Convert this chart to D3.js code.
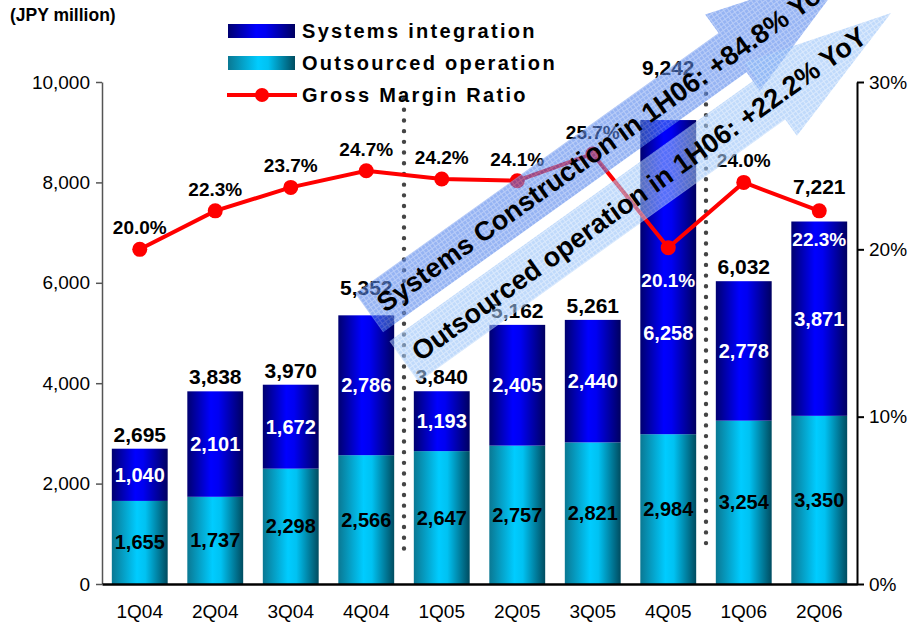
<!DOCTYPE html>
<html>
<head>
<meta charset="utf-8">
<script src="https://cdn.jsdelivr.net/npm/d3@7"></script>
<style>
  body { margin: 0; background: #fff; }
  svg { display: block; font-family: "Liberation Sans", Arial, sans-serif; }
</style>
</head>
<body>
<svg id="chart" width="910" height="624"></svg>
<script>
// Data (JPY million, %)
const quarters = ['1Q04', '2Q04', '3Q04', '4Q04', '1Q05', '2Q05', '3Q05', '4Q05', '1Q06', '2Q06'];
const outsourcedOperation = [1655, 1737, 2298, 2566, 2647, 2757, 2821, 2984, 3254, 3350];
const systemsIntegration = [1040, 2101, 1672, 2786, 1193, 2405, 2440, 6258, 2778, 3871];
const totals = [2695, 3838, 3970, 5352, 3840, 5162, 5261, 9242, 6032, 7221];
const grossMarginRatio = [20.0, 22.3, 23.7, 24.7, 24.2, 24.1, 25.7, 20.1, 24.0, 22.3];
const leftTicks = [0, 2000, 4000, 6000, 8000, 10000];
const rightTicks = [0, 10, 20, 30];
const legendNames = ['Systems integration', 'Outsourced operation', 'Gross Margin Ratio'];
const arrowTexts = ['Systems Construction in 1H06: +84.8% YoY', 'Outsourced operation in 1H06: +22.2% YoY'];
const dividerAfter = ['4Q04', '4Q05'];

// Layout
const PLOT = { left: 102, right: 857, top: 82, bottom: 584 };
const FONT = '"Liberation Sans", Arial, sans-serif';

const svg = d3.select('#chart');

const x = d3.scaleBand()
    .domain(quarters)
    .range([PLOT.left, PLOT.right])
    .paddingInner(0.26)
    .paddingOuter(0.13);

const yLeft = d3.scaleLinear().domain([0, 10000]).range([PLOT.bottom, PLOT.top]);
const yRight = d3.scaleLinear().domain([0, 30]).range([PLOT.bottom, PLOT.top]);

// Gradients for the bars
const defs = svg.append('defs');

function addGradient(id, stops) {
    const g = defs.append('linearGradient').attr('id', id)
        .attr('x1', 0).attr('x2', 1).attr('y1', 0).attr('y2', 0);
    stops.forEach(([o, c]) => g.append('stop').attr('offset', o).attr('stop-color', c));
}
addGradient('gradSys', [[0, '#000070'], [0.42, '#0000FF'], [0.56, '#0000F2'], [1, '#000060']]);
addGradient('gradOut', [[0, '#0A7893'], [0.45, '#00CCFF'], [0.6, '#00C2F2'], [1, '#004C60']]);

// Hatched fills for the arrows
function addPattern(id, base, line) {
    const p = defs.append('pattern').attr('id', id)
        .attr('patternUnits', 'userSpaceOnUse').attr('width', 4).attr('height', 4);
    p.append('rect').attr('width', 4).attr('height', 4).attr('fill', base);
    p.append('rect').attr('width', 4).attr('height', 1).attr('fill', line);
    p.append('rect').attr('width', 1).attr('height', 4).attr('fill', line);
}
addPattern('patSys', '#4A7DEB', '#86A8F2');
addPattern('patOut', '#93BFF8', '#C0DAFB');

// Stacked bars
const bars = svg.append('g');
quarters.forEach((q, i) => {
    bars.append('rect')
        .attr('x', x(q)).attr('width', x.bandwidth())
        .attr('y', yLeft(outsourcedOperation[i]))
        .attr('height', yLeft(0) - yLeft(outsourcedOperation[i]))
        .attr('fill', 'url(#gradOut)');
    bars.append('rect')
        .attr('x', x(q)).attr('width', x.bandwidth())
        .attr('y', yLeft(totals[i]))
        .attr('height', yLeft(outsourcedOperation[i]) - yLeft(totals[i]))
        .attr('fill', 'url(#gradSys)');
});

// Axes
const leftAxis = svg.append('g')
    .attr('transform', `translate(${PLOT.left},0)`)
    .call(d3.axisLeft(yLeft).tickValues(leftTicks).tickFormat(d3.format(','))
        .tickSize(6).tickSizeOuter(0).tickPadding(6));
leftAxis.selectAll('path, line').attr('stroke', '#555').attr('stroke-width', 1.5);
leftAxis.selectAll('text').attr('font-size', 19).attr('font-family', FONT).attr('fill', '#000');

const rightAxis = svg.append('g')
    .attr('transform', `translate(${PLOT.right},0)`)
    .call(d3.axisRight(yRight).tickValues(rightTicks).tickFormat(d => d + '%')
        .tickSize(7).tickSizeOuter(0).tickPadding(5));
rightAxis.selectAll('path, line').attr('stroke', '#000').attr('stroke-width', 2);
rightAxis.selectAll('text').attr('font-size', 19).attr('font-family', FONT).attr('fill', '#000');

const bottomAxis = svg.append('g')
    .attr('transform', `translate(0,${PLOT.bottom})`)
    .call(d3.axisBottom(x).tickSize(0).tickPadding(21));
bottomAxis.select('path').attr('stroke', '#000').attr('stroke-width', 2.5);
bottomAxis.selectAll('text').attr('font-size', 19).attr('font-family', FONT).attr('fill', '#000');

// Dotted dividers between fiscal halves
const dividerTops = [yLeft(9660), yLeft(9980)];
dividerAfter.forEach((q, k) => {
    const xb = x(q) + x.bandwidth() + x.step() * x.paddingInner() / 2;
    svg.append('line')
        .attr('x1', xb).attr('x2', xb)
        .attr('y1', dividerTops[k]).attr('y2', yLeft(620))
        .attr('stroke', '#444').attr('stroke-width', 4.4)
        .attr('stroke-linecap', 'round').attr('stroke-dasharray', '0 10.7');
});

// Gross margin line
const cx = q => x(q) + x.bandwidth() / 2;
const line = d3.line()
    .x((d, i) => cx(quarters[i]))
    .y(d => yRight(d));
svg.append('path')
    .datum(grossMarginRatio)
    .attr('d', line)
    .attr('fill', 'none').attr('stroke', '#FF0000').attr('stroke-width', 4);
svg.append('g').selectAll('circle')
    .data(grossMarginRatio)
    .join('circle')
    .attr('cx', (d, i) => cx(quarters[i]))
    .attr('cy', d => yRight(d))
    .attr('r', 7.5)
    .attr('fill', '#FF0000');

// Data labels
const labels = svg.append('g').attr('font-family', FONT).attr('font-weight', 'bold').attr('text-anchor', 'middle');
const totalLift = { '4Q04': 13, '4Q05': 38, '2Q06': 21 };
const sysDrop = { '4Q05': 56 };
const marginInside = { '4Q05': 32, '2Q06': 28 };

quarters.forEach((q, i) => {
    labels.append('text')
        .attr('x', cx(q))
        .attr('y', yLeft(totals[i]) - 7 - (totalLift[q] || 0))
        .attr('font-size', 21)
        .text(d3.format(',')(totals[i]));
    labels.append('text')
        .attr('x', cx(q))
        .attr('y', (yLeft(0) + yLeft(outsourcedOperation[i])) / 2 + 7)
        .attr('font-size', 20)
        .text(d3.format(',')(outsourcedOperation[i]));
    labels.append('text')
        .attr('x', cx(q))
        .attr('y', (yLeft(outsourcedOperation[i]) + yLeft(totals[i])) / 2 + 7 + (sysDrop[q] || 0))
        .attr('font-size', 20)
        .attr('fill', '#fff')
        .text(d3.format(',')(systemsIntegration[i]));
    const inside = marginInside[q];
    labels.append('text')
        .attr('x', cx(q))
        .attr('y', inside ? yRight(grossMarginRatio[i]) + inside + 7 : yRight(grossMarginRatio[i]) - 15)
        .attr('font-size', 19)
        .attr('fill', inside ? '#fff' : '#000')
        .text(grossMarginRatio[i].toFixed(1) + '%');
});

// Growth arrows
const arrowAngle = -35.6;
const rad = arrowAngle * Math.PI / 180;
const perp = [-Math.sin(rad), Math.cos(rad)];
const arrowTail = [x.range()[0] + 4 * x.step(), yLeft(4430)];
const arrows = [
    { text: arrowTexts[0], offset: -60, len: 595, headAt: 447, body: 24, head: 47, fill: 'url(#patSys)' },
    { text: arrowTexts[1], offset: 0, len: 599, headAt: 451, body: 25, head: 45, fill: 'url(#patOut)' }
];
arrows.forEach(a => {
    const tx = arrowTail[0] + perp[0] * a.offset;
    const ty = arrowTail[1] + perp[1] * a.offset;
    const g = svg.append('g').attr('transform', `translate(${tx},${ty}) rotate(${arrowAngle})`);
    const pts = [[0, -a.body], [a.headAt, -a.body], [a.headAt, -a.head], [a.len, 0],
        [a.headAt, a.head], [a.headAt, a.body], [0, a.body]];
    g.append('polygon')
        .attr('points', pts.map(p => p.join(',')).join(' '))
        .attr('fill', a.fill)
        .attr('opacity', 0.58);
    g.append('text')
        .attr('x', 13).attr('y', 0).attr('dy', '0.36em')
        .attr('font-family', FONT).attr('font-weight', 'bold').attr('font-size', 27)
        .attr('fill', '#000')
        .text(a.text);
});

// Legend
const legend = svg.append('g').attr('font-family', FONT).attr('font-weight', 'bold');
legend.append('rect').attr('x', 228).attr('y', 24).attr('width', 67).attr('height', 14).attr('fill', 'url(#gradSys)');
legend.append('rect').attr('x', 228).attr('y', 56).attr('width', 67).attr('height', 14).attr('fill', 'url(#gradOut)');
legend.append('line').attr('x1', 227).attr('x2', 297).attr('y1', 95).attr('y2', 95)
    .attr('stroke', '#FF0000').attr('stroke-width', 4);
legend.append('circle').attr('cx', 262).attr('cy', 95).attr('r', 7).attr('fill', '#FF0000');
legendNames.forEach((name, i) => {
    legend.append('text')
        .attr('x', 302).attr('y', 38 + i * 32)
        .attr('font-size', 20).attr('letter-spacing', 2.3)
        .text(name);
});

svg.append('text')
    .attr('x', 10).attr('y', 21)
    .attr('font-family', FONT).attr('font-weight', 'bold').attr('font-size', 17.5)
    .text('(JPY million)');
</script>
</body>
</html>
